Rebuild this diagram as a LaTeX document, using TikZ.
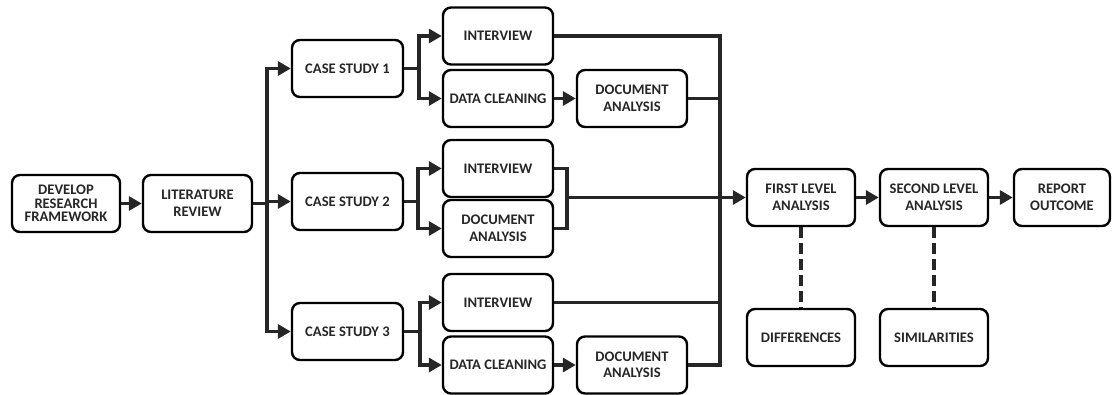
\documentclass[tikz,border=0pt]{standalone}
\usepackage{fontspec}
\setmainfont{Carlito}
\usetikzlibrary{arrows.meta}
\begin{document}
\begin{tikzpicture}[x=1pt,y=-1pt,
  box/.style={draw=black, line width=2.4pt, rounded corners=8pt, align=center,
    minimum height=57pt, minimum width=110pt, inner sep=2pt,
    font=\bfseries\fontsize{14.6}{16.5}\selectfont, text=black!85},
  conn/.style={line width=3.6pt, draw=black!85},
  arr/.style={conn, -{Triangle[length=13pt,width=14pt]}},
  dashline/.style={line width=3.4pt, draw=black!85, dash pattern=on 11pt off 5pt}
]
\useasboundingbox (0,0) rectangle (1114,394);
% main row
\node[box, minimum width=108pt, font=\bfseries\fontsize{14.6}{13.4}\selectfont] (dev) at (66,203.5) {DEVELOP\\RESEARCH\\FRAMEWORK};
\node[box, minimum width=109pt] (lit) at (197.5,203.5) {LITERATURE\\REVIEW};
\node[box, minimum width=111pt] (cs1) at (347.5,68.5) {CASE STUDY 1};
\node[box, minimum width=111pt] (cs2) at (347.5,201.5) {CASE STUDY 2};
\node[box, minimum width=111pt] (cs3) at (347.5,331.5) {CASE STUDY 3};
% case 1
\node[box] (int1) at (498,36) {INTERVIEW};
\node[box] (dc1) at (498,98.5) {DATA CLEANING};
\node[box] (da1) at (632,98.5) {DOCUMENT\\ANALYSIS};
% case 2
\node[box] (int2) at (498,168.5) {INTERVIEW};
\node[box] (da2) at (498,228.5) {DOCUMENT\\ANALYSIS};
% case 3
\node[box] (int3) at (498,302.5) {INTERVIEW};
\node[box] (dc3) at (498,365) {DATA CLEANING};
\node[box] (da3) at (632,365) {DOCUMENT\\ANALYSIS};
% analysis
\node[box, minimum width=108pt] (fla) at (801,197.5) {FIRST LEVEL\\ANALYSIS};
\node[box, minimum width=108pt] (sla) at (934,197.5) {SECOND LEVEL\\ANALYSIS};
\node[box, minimum width=96pt] (ro) at (1062,197.5) {REPORT\\OUTCOME};
\node[box, minimum width=108pt] (dif) at (801,337.5) {DIFFERENCES};
\node[box, minimum width=108pt] (sim) at (934,337.5) {SIMILARITIES};
% coordinates
\coordinate (b1) at (267,203.5);
\coordinate (c1) at (419,68.5);
\coordinate (c2) at (418,201.5);
\coordinate (c3) at (420,331.5);
\coordinate (k2) at (567,197.5);
\coordinate (bt) at (720,36);
\coordinate (bb) at (720,365);
% connectors
\draw[arr] (dev) -- (lit);
\draw[conn] (lit.east) -- (b1);
\draw[arr] (b1) |- (cs1.west);
\draw[arr] (b1) -- (b1 |- cs2.west) -- (cs2.west);
\draw[arr] (b1) |- (cs3.west);
\draw[conn] (cs1.east) -- (c1);
\draw[arr] (c1) |- (int1.west);
\draw[arr] (c1) |- (dc1.west);
\draw[arr] (dc1) -- (da1);
\draw[conn] (cs2.east) -- (c2);
\draw[arr] (c2) |- (int2.west);
\draw[arr] (c2) |- (da2.west);
\draw[conn] (cs3.east) -- (c3);
\draw[arr] (c3) |- (int3.west);
\draw[arr] (c3) |- (dc3.west);
\draw[arr] (dc3) -- (da3);
\draw[conn] (int2.east) -| (k2) |- (da2.east);
\draw[arr] (k2) -- (fla.west);
\draw[conn] (int1.east) -- (bt) -- (bb) -- (da3.east);
\draw[conn] (da1.east) -- (da1.east -| bt);
\draw[conn] (int3.east) -- (int3.east -| bt);
\draw[arr] (fla) -- (sla);
\draw[arr] (sla) -- (ro);
\draw[dashline] (fla.south) -- (dif.north);
\draw[dashline] (sla.south) -- (sim.north);
\end{tikzpicture}
\end{document}
